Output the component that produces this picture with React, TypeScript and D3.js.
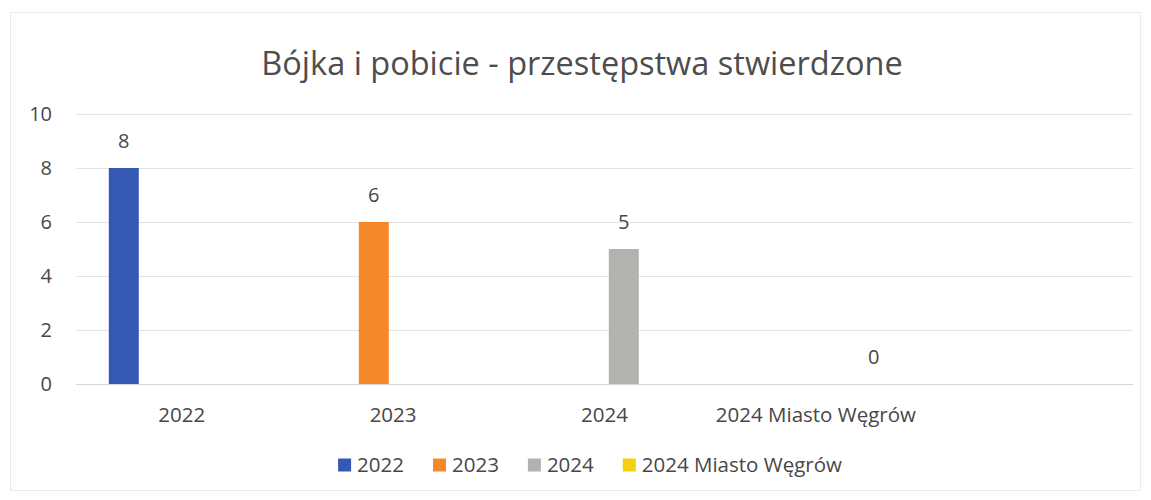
import React, { useEffect, useRef } from "react";
import * as d3 from "d3";

const TITLE = "Bójka i pobicie - przestępstwa stwierdzone";
const categories = ["2022", "2023", "2024", "2024 Miasto Węgrów", ""];
const seriesNames = ["2022", "2023", "2024", "2024 Miasto Węgrów"];
const values2022: (number | null)[] = [8, null, null, null, null];
const values2023: (number | null)[] = [null, 6, null, null, null];
const values2024: (number | null)[] = [null, null, 5, null, null];
const valuesWegrow: (number | null)[] = [null, null, null, 0, null];
const seriesValues = [values2022, values2023, values2024, valuesWegrow];
const seriesColors = ["#3558b5", "#f5892a", "#b1b3ae", "#f4cf12"];
const yTicks = [0, 2, 4, 6, 8, 10];

const W = 1151;
const H = 500;
const FONT = "'Open Sans', 'Noto Sans', sans-serif";
const TEXT = "#474747";

export default function App() {
  const ref = useRef<SVGSVGElement | null>(null);

  useEffect(() => {
    const svg = d3.select(ref.current);
    svg.selectAll("*").remove();

    svg.append("rect").attr("width", W).attr("height", H).attr("fill", "#fff");
    svg
      .append("rect")
      .attr("x", 10.5)
      .attr("y", 12.5)
      .attr("width", 1130)
      .attr("height", 478)
      .attr("fill", "none")
      .attr("stroke", "#ebebeb");

    const left = 76;
    const right = 1133;
    const top = 114;
    const bottom = 384;

    const y = d3.scaleLinear().domain([0, 10]).range([bottom, top]);
    const x0 = d3.scaleBand<string>().domain(categories).range([left, right]).padding(0);
    const x1 = d3
      .scaleBand<string>()
      .domain(seriesNames)
      .range([0, x0.bandwidth()])
      .paddingInner(0.223)
      .paddingOuter(0.85);

    // title
    svg
      .append("text")
      .attr("x", 582)
      .attr("y", 75)
      .attr("text-anchor", "middle")
      .attr("font-family", FONT)
      .attr("font-size", 32.5)
      .attr("fill", "#4d4d4d")
      .text(TITLE);

    // grid
    svg
      .append("g")
      .selectAll("line")
      .data(yTicks)
      .join("line")
      .attr("x1", left)
      .attr("x2", right)
      .attr("y1", (d) => y(d) + 0.5)
      .attr("y2", (d) => y(d) + 0.5)
      .attr("stroke", (d) => (d === 0 ? "#d6d6d6" : "#e3e3e3"))
      .attr("stroke-width", 1.2);

    // y tick labels
    svg
      .append("g")
      .selectAll("text")
      .data(yTicks)
      .join("text")
      .attr("x", 52)
      .attr("y", (d) => y(d))
      .attr("dy", "0.35em")
      .attr("text-anchor", "end")
      .attr("font-family", FONT)
      .attr("font-size", 20)
      .attr("fill", TEXT)
      .text((d) => String(d));

    // category labels
    svg
      .append("g")
      .selectAll("text")
      .data(categories)
      .join("text")
      .attr("x", (d) => (x0(d) as number) + x0.bandwidth() / 2)
      .attr("y", 415)
      .attr("dy", "0.35em")
      .attr("text-anchor", "middle")
      .attr("font-family", FONT)
      .attr("font-size", 20.5)
      .attr("fill", TEXT)
      .text((d) => d);

    // bars + labels
    seriesNames.forEach((s, si) => {
      const pts = categories
        .map((c, ci) => ({ c, v: seriesValues[si][ci] }))
        .filter((p) => p.v !== null) as { c: string; v: number }[];
      const g = svg.append("g");
      g.selectAll("rect")
        .data(pts)
        .join("rect")
        .attr("x", (d) => (x0(d.c) as number) + (x1(s) as number))
        .attr("width", x1.bandwidth())
        .attr("y", (d) => y(d.v))
        .attr("height", (d) => y(0) - y(d.v))
        .attr("fill", seriesColors[si]);
      g.selectAll("text")
        .data(pts)
        .join("text")
        .attr("x", (d) => (x0(d.c) as number) + (x1(s) as number) + x1.bandwidth() / 2)
        .attr("y", (d) => y(d.v) - 27)
        .attr("dy", "0.35em")
        .attr("text-anchor", "middle")
        .attr("font-family", FONT)
        .attr("font-size", 20)
        .attr("fill", TEXT)
        .text((d) => String(d.v));
    });

    // legend
    const lg = svg.append("g");
    const sq = 13;
    const gapT = 6;
    const gapItem = 29;
    const items = seriesNames.map((s, i) => {
      const gi = lg.append("g");
      gi.append("rect")
        .attr("width", sq)
        .attr("height", sq)
        .attr("y", 465 - sq / 2)
        .attr("fill", seriesColors[i]);
      const t = gi
        .append("text")
        .attr("x", sq + gapT)
        .attr("y", 465)
        .attr("dy", "0.35em")
        .attr("font-family", FONT)
        .attr("font-size", 20.5)
        .attr("fill", TEXT)
        .text(s);
      const w = (t.node() as SVGTextElement).getComputedTextLength();
      return { gi, w: sq + gapT + w };
    });
    const total = d3.sum(items, (d) => d.w) + gapItem * (items.length - 1);
    let cx = 590 - total / 2;
    items.forEach((it) => {
      it.gi.attr("transform", `translate(${cx},0)`);
      cx += it.w + gapItem;
    });
  }, []);

  return (
    <svg
      ref={ref}
      width={W}
      height={H}
      style={{ position: "absolute", left: 0, top: 0, display: "block" }}
    />
  );
}
